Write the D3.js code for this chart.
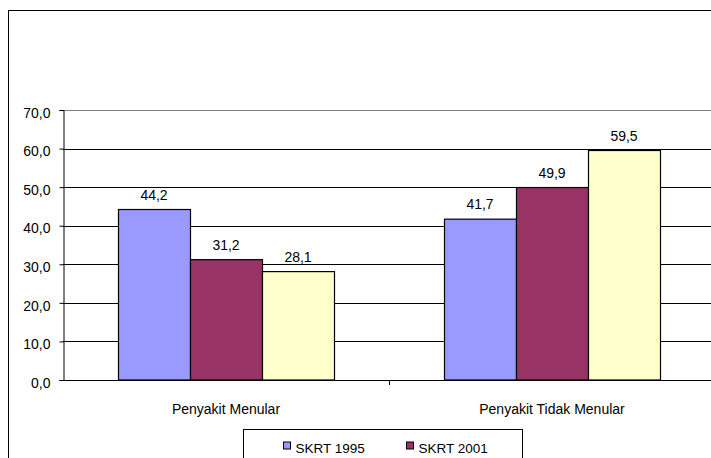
<!DOCTYPE html>
<html>
<head>
<meta charset="utf-8">
<script src="https://cdn.jsdelivr.net/npm/d3@7"></script>
<style>
  body { margin: 0; background: #fff; }
  text { font-family: Arial, "Liberation Sans", sans-serif; font-size: 14px; fill: #000; }
</style>
</head>
<body>
<div id="chart"></div>
<script>
// data
var categories = ["Penyakit Menular", "Penyakit Tidak Menular"];
var seriesNames = ["SKRT 1995", "SKRT 2001", "Riskesdas 2007"];
var values1995 = [44.2, 41.7];
var values2001 = [31.2, 49.9];
var values2007 = [28.1, 59.5];
var yTicks = [0, 10, 20, 30, 40, 50, 60, 70];
var colors = ["#9999ff", "#993366", "#ffffcc"];

var seriesValues = [values1995, values2001, values2007];

var W = 711, H = 458;
var margin = { top: 110, left: 63 },
  width = 652,
  height = 270;

var svg = d3
  .select("#chart")
  .append("svg")
  .attr("width", W)
  .attr("height", H);

// outer chart border (right and bottom run off the canvas)
svg
  .append("rect")
  .attr("x", 8.5)
  .attr("y", 10.5)
  .attr("width", 740)
  .attr("height", 500)
  .attr("fill", "none")
  .attr("stroke", "#000")
  .attr("stroke-width", 1);

var g = svg
  .append("g")
  .attr("transform", "translate(" + margin.left + "," + margin.top + ")");

var x0 = d3.scaleBand().domain(categories).range([0, width]).padding(0);
var x1 = d3
  .scaleBand()
  .domain(seriesNames)
  .range([55, x0.bandwidth() - 55])
  .padding(0);
var y = d3.scaleLinear().domain([0, 70]).range([height, 0]);

var fmt = function (v) {
  return d3.format(".1f")(v).replace(".", ",");
};

// gridlines
g.selectAll(".grid")
  .data(yTicks.filter((d) => d > 0))
  .enter()
  .append("line")
  .attr("x1", 0)
  .attr("x2", width)
  .attr("y1", (d) => Math.round(y(d)) + 0.5)
  .attr("y2", (d) => Math.round(y(d)) + 0.5)
  .attr("stroke", (d) => (d === 70 ? "#808080" : "#000"))
  .attr("stroke-width", 1);

// y axis
var yAxis = g
  .append("g")
  .attr("transform", "translate(0.5,0)")
  .call(
    d3
      .axisLeft(y)
      .tickValues(yTicks)
      .tickSize(4)
      .tickFormat(fmt)
  );
yAxis.select(".domain").attr("stroke", "#000");
yAxis.selectAll(".tick line").attr("stroke", "#000");
yAxis
  .selectAll("text")
  .attr("x", -13)
  .attr("dy", "0.52em")
  .style("font-size", "14px")
  .style("font-family", "Arial, 'Liberation Sans', sans-serif");

// bars
var groups = g
  .selectAll(".cat")
  .data(categories)
  .enter()
  .append("g")
  .attr("transform", (d) => "translate(" + x0(d) + ",0)");

groups
  .selectAll("rect")
  .data((d, i) =>
    seriesNames.map((s, j) => ({ series: s, value: seriesValues[j][i], j: j }))
  )
  .enter()
  .append("rect")
  .attr("x", (d) => x1(d.series) + 0.5)
  .attr("y", (d) => y(d.value))
  .attr("width", x1.bandwidth())
  .attr("height", (d) => height - y(d.value))
  .attr("fill", (d) => colors[d.j])
  .attr("stroke", "#000")
  .attr("stroke-width", 1.2);

groups
  .selectAll(".label")
  .data((d, i) =>
    seriesNames.map((s, j) => ({ series: s, value: seriesValues[j][i] }))
  )
  .enter()
  .append("text")
  .attr("x", (d) => x1(d.series) + x1.bandwidth() / 2)
  .attr("y", (d) => y(d.value) - 10)
  .attr("text-anchor", "middle")
  .text((d) => fmt(d.value));

// x axis
g.append("line")
  .attr("x1", 0)
  .attr("x2", width)
  .attr("y1", height + 0.5)
  .attr("y2", height + 0.5)
  .attr("stroke", "#000");

g.selectAll(".xtick")
  .data([x0.bandwidth()])
  .enter()
  .append("line")
  .attr("x1", (d) => d + 0.5)
  .attr("x2", (d) => d + 0.5)
  .attr("y1", height)
  .attr("y2", height + 5)
  .attr("stroke", "#000");

g.selectAll(".xlabel")
  .data(categories)
  .enter()
  .append("text")
  .attr("x", (d) => x0(d) + x0.bandwidth() / 2)
  .attr("y", height + 34)
  .attr("text-anchor", "middle")
  .text((d) => d);

// legend: only its first row is inside the picture, the box runs off the bottom
var legend = svg.append("g").attr("transform", "translate(243.5,429.5)");
legend
  .append("rect")
  .attr("width", 279)
  .attr("height", 70)
  .attr("fill", "#fff")
  .attr("stroke", "#000");

var legendPos = [
  [40, 23],
  [163, 23],
];
var items = legend
  .selectAll(".item")
  .data(seriesNames.slice(0, legendPos.length))
  .enter()
  .append("g")
  .attr("transform", (d, i) => "translate(" + legendPos[i][0] + "," + legendPos[i][1] + ")");
items
  .append("rect")
  .attr("x", 0)
  .attr("y", -10.5)
  .attr("width", 7)
  .attr("height", 7)
  .attr("fill", (d, i) => colors[i])
  .attr("stroke", "#000");
items
  .append("text")
  .attr("x", 12)
  .attr("y", 0)
  .style("font-size", "13.5px")
  .text((d) => d);
</script>
</body>
</html>
